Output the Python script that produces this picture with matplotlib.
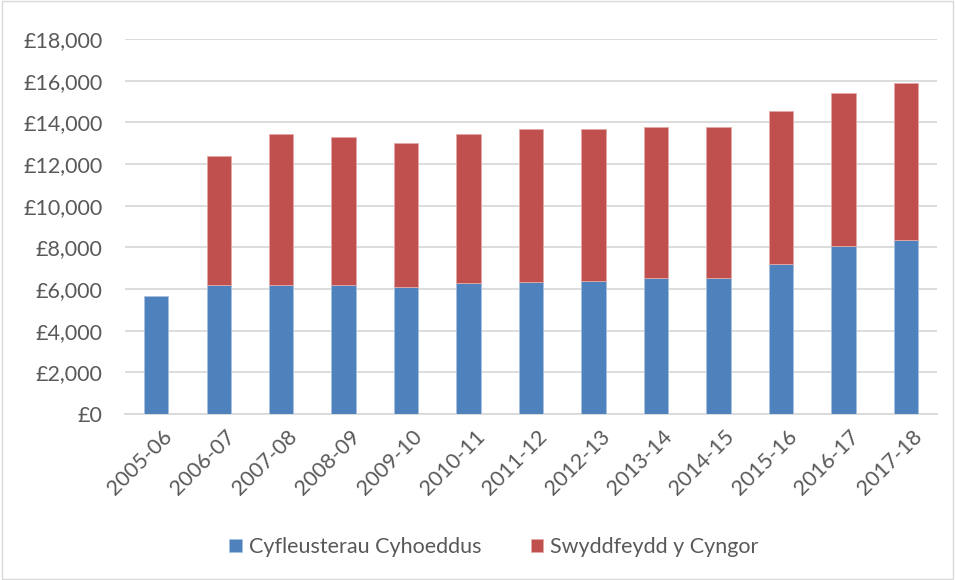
import matplotlib.pyplot as plt
import numpy as np
from matplotlib.patches import Rectangle
from matplotlib.ticker import FuncFormatter
from matplotlib.transforms import ScaledTranslation

years = ['2005-06', '2006-07', '2007-08', '2008-09', '2009-10', '2010-11', '2011-12',
         '2012-13', '2013-14', '2014-15', '2015-16', '2016-17', '2017-18']
public_toilets = [5680, 6210, 6210, 6180, 6100, 6270, 6340,
                  6360, 6510, 6510, 7200, 8080, 8340]
# no council office figure for 2005-06
council_offices = [np.nan, 6190, 7230, 7120, 6910, 7190, 7360,
                   7340, 7250, 7280, 7340, 7310, 7550]
series_names = ['Cyfleusterau Cyhoeddus', 'Swyddfeydd y Cyngor']

blue = '#4F81BD'
red = '#C0504D'
txt = '#595959'

plt.rcParams['font.family'] = ['Lato', 'DejaVu Sans']

fig = plt.figure(figsize=(9.55, 5.8), dpi=100)
ax = fig.add_axes([0.1309, 0.2862, 0.8503, 0.6466])

x = np.arange(len(years))
ax.bar(x, public_toilets, width=0.39, color=blue, edgecolor='#A9C1E0', linewidth=0.6,
       label=series_names[0], zorder=3)
ax.bar(x, council_offices, width=0.39, bottom=public_toilets, color=red,
       edgecolor='#E3A9A7', linewidth=0.6, label=series_names[1], zorder=3)

ax.set_xlim(-0.5, len(years) - 0.5)
ax.set_ylim(0, 18000)
ax.set_yticks(range(0, 18001, 2000))
ax.yaxis.set_major_formatter(FuncFormatter(lambda v, p: '£{:,.0f}'.format(v)))
ax.grid(axis='y', color='#D9D9D9', linewidth=1.3, zorder=0)
for s in ['top', 'right', 'left']:
    ax.spines[s].set_visible(False)
ax.spines['bottom'].set_color('#D9D9D9')
ax.spines['bottom'].set_linewidth(1.3)
ax.tick_params(axis='both', length=0, colors=txt, labelsize=15.5)
ax.tick_params(axis='y', pad=16)
ax.set_xticks(x)
ax.set_xticklabels(years, rotation=45, ha='right', rotation_mode='anchor')
ax.tick_params(axis='x', pad=9)
shift = ScaledTranslation(6 / 100, 0, fig.dpi_scale_trans)
for lab in ax.get_xticklabels():
    lab.set_transform(lab.get_transform() + shift)

leg = fig.legend(loc='center', bbox_to_anchor=(0.517, 0.057), ncol=2, frameon=False,
                 fontsize=15.5, handlelength=0.6, handleheight=0.6, columnspacing=2.3,
                 handletextpad=0.3)
for t in leg.get_texts():
    t.set_color(txt)

fig.patches.append(Rectangle((0.002, 0.002), 0.996, 0.996, transform=fig.transFigure,
                             fill=False, edgecolor='#D9D9D9', linewidth=1))

fig.savefig('out.png', dpi=100)
